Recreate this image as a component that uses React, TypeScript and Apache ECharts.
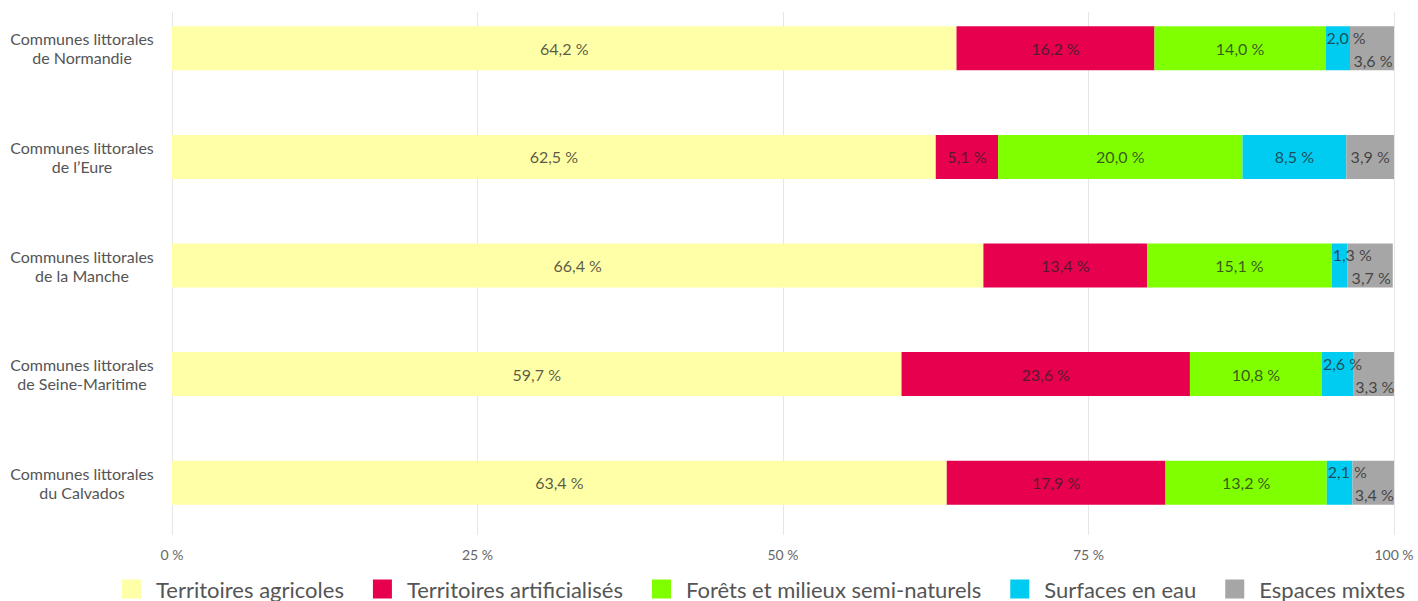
import React, { useEffect, useRef } from "react";
import * as echarts from "echarts";

const categories = [
  "Communes littorales\nde Normandie",
  "Communes littorales\nde l’Eure",
  "Communes littorales\nde la Manche",
  "Communes littorales\nde Seine-Maritime",
  "Communes littorales\ndu Calvados",
];

const seriesNames = [
  "Territoires agricoles",
  "Territoires artificialisés",
  "Forêts et milieux semi-naturels",
  "Surfaces en eau",
  "Espaces mixtes",
];

const agricoles = [64.2, 62.5, 66.4, 59.7, 63.4];
const artificialises = [16.2, 5.1, 13.4, 23.6, 17.9];
const forets = [14.0, 20.0, 15.1, 10.8, 13.2];
const eau = [2.0, 8.5, 1.3, 2.6, 2.1];
const mixtes = [3.6, 3.9, 3.7, 3.3, 3.4];

const xTicks = [0, 25, 50, 75, 100];

const colors = ["#FFFFA8", "#E6004D", "#80FF00", "#00CCF2", "#A6A6A6"];

const fmt = (v: number) => v.toFixed(1).replace(".", ",") + " %";
const FONT = "Lato, 'Noto Sans', sans-serif";
const SHIFT = 20;

export default function App() {
  const ref = useRef<HTMLDivElement>(null);
  useEffect(() => {
    if (!ref.current) return;
    const chart = echarts.init(ref.current, null, { renderer: "svg" });
    const values = [agricoles, artificialises, forets, eau, mixtes];
    const labelColor = "rgba(35,35,35,0.75)";
    const series = values.map((vals, si) => ({
      name: seriesNames[si],
      type: "bar",
      stack: "total",
      xAxisIndex: 0,
      yAxisIndex: 0,
      barWidth: 44,
      itemStyle: { color: colors[si] },
      label: {
        show: true,
        position: "inside",
        formatter: (p: any) => fmt(p.value),
        color: labelColor,
        fontFamily: FONT,
        fontSize: 16,
      },
      data: vals.map((v, i) => {
        const smallWater = eau[i] < 3;
        if (si === 3 && smallWater) {
          return {
            value: v,
            label: { position: "insideLeft", distance: 1, offset: [0, -11] },
          };
        }
        if (si === 4 && smallWater) {
          return { value: v, label: { offset: [1, 12] } };
        }
        return { value: v };
      }),
    }));

    chart.setOption({
      animation: false,
      legend: {
        data: seriesNames,
        left: 122,
        right: 0,
        top: 578 + SHIFT,
        padding: 0,
        itemWidth: 19,
        itemHeight: 19,
        itemGap: 29,
        icon: "rect",
        textStyle: {
          color: "#555",
          fontSize: 22,
          fontFamily: FONT,
          padding: [0, 0, 0, 10],
        },
      },
      grid: [
        { left: 172, right: 24, top: 14, bottom: 64 },
        { left: 172, right: 24, top: 12 + SHIFT, bottom: 66 },
      ],
      xAxis: [
        {
          type: "value",
          gridIndex: 0,
          min: 0,
          max: 100,
          show: false,
          splitLine: { show: false },
        },
        {
          type: "value",
          gridIndex: 1,
          min: 0,
          max: 100,
          interval: 25,
          axisLine: { show: false },
          axisTick: { show: false },
          splitLine: { show: true, lineStyle: { color: "#e6e6e6", width: 1 } },
          axisLabel: {
            formatter: (v: number) => (xTicks.includes(v) ? v + " %" : ""),
            color: "#666",
            fontSize: 14,
            fontFamily: FONT,
            margin: 12,
          },
        },
      ],
      yAxis: [
        {
          type: "category",
          gridIndex: 0,
          data: categories,
          inverse: true,
          axisLine: { show: false },
          axisTick: { show: false },
          splitLine: { show: false },
          axisLabel: {
            align: "center",
            margin: 90,
            color: "#555",
            fontSize: 16,
            lineHeight: 19,
            fontFamily: FONT,
          },
        },
        {
          type: "value",
          gridIndex: 1,
          show: false,
          min: 0,
          max: 1,
          splitLine: { show: false },
        },
      ],
      series,
    });
    return () => chart.dispose();
  }, []);
  return (
    <div
      ref={ref}
      style={{ position: "fixed", left: 0, top: -SHIFT, width: 1418, height: 601 + SHIFT, background: "#fff" }}
    />
  );
}
